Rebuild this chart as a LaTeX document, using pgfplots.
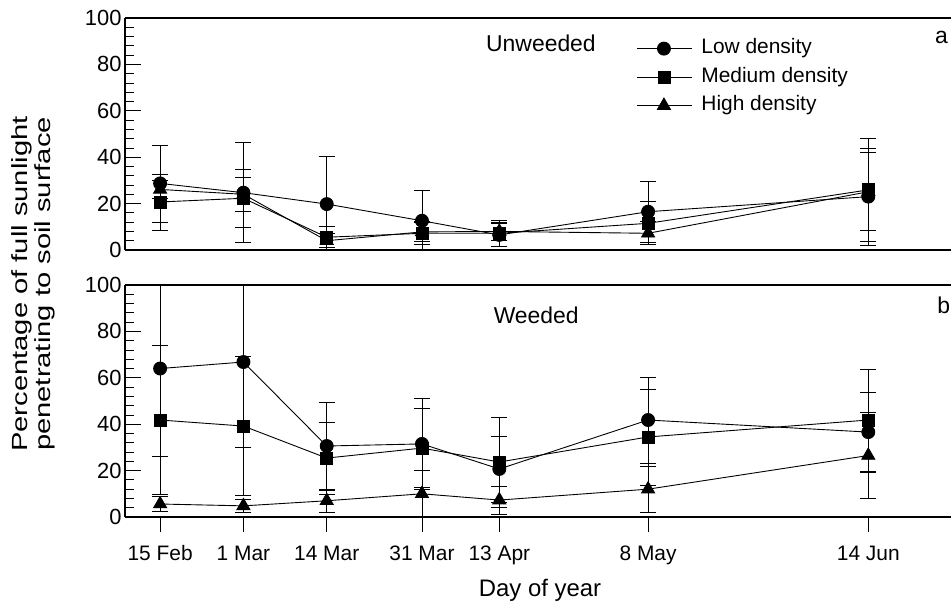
\documentclass[border=0pt]{standalone}
\usepackage{pgfplots}
\pgfplotsset{compat=1.18}
\usepackage{fontspec}
\setmainfont{Liberation Sans}

\pgfplotsset{
  panel/.style={
    scale only axis, width=826bp, height=232bp,
    xmin=40.1, xmax=178.9, ymin=0, ymax=100,
    axis x line=box, axis y line*=left,
    axis line style={line width=1.1pt},
    ytick={0,20,...,100}, minor ytick={4,8,...,96},
    tick align=inside, major tick length=16bp, minor tick length=9bp,
    tick style={line width=0.8pt, black},
    minor tick style={line width=0.8pt, black},
    ytick pos=left,
    font=\fontsize{21}{24}\selectfont,
    ticklabel style={font=\fontsize{21}{24}\selectfont},
    yticklabel style={font=\fontsize{22}{24}\selectfont},
    /pgf/number format/assume math mode=true,
    error bars/y dir=both, error bars/y explicit,
    error bars/error bar style={line width=0.8pt, black},
    error bars/error mark options={rotate=90, mark size=8bp, line width=0.8pt, black},
  },
  ser/.style={black, line width=0.9pt, mark options={solid, fill=black}},
  low/.style={ser, mark=*, mark size=6.5bp},
  med/.style={ser, mark=square*, mark size=6bp},
  high/.style={ser, mark=triangle*, mark size=7.5bp},
}

\begin{document}
\begin{tikzpicture}
% unweeded
\begin{axis}[panel, at={(125bp,351bp)}, anchor=south west,
  xtick=\empty,
  legend style={draw=none, fill=none, inner sep=0pt,
    at={(rel axis cs:0.619,0.912)}, anchor=north west,
    row sep=8.5bp, column sep=9bp,
    font=\fontsize{21}{24}\selectfont,
    nodes={inner sep=0pt, anchor=west, text height=15bp, text depth=5bp}},
  legend cell align=left,
  legend image code/.code={
    \draw[#1, mark repeat=2, mark phase=2] plot coordinates {(0bp,0bp) (27bp,0bp) (55bp,0bp)};}
]
\addplot[low] coordinates {
  (46,28.7) +- (0,16.6)
  (60,24.7) +- (0,21.6)
  (74,19.8) +- (0,20.4)
  (90,12.6) +- (0,13.3)
  (103,6.5) +- (0,5.0)
  (128,16.5) +- (0,13.2)
  (165,23.0) +- (0,21.0)
};
\addlegendentry{Low density}
\addplot[med] coordinates {
  (46,20.7) +- (0,12.1)
  (60,22.3) +- (0,12.6)
  (74,5.5) +- (0,4.5)
  (90,7.2) +- (0,5.0)
  (103,7.2) +- (0,5.7)
  (128,11.5) +- (0,9.3)
  (165,25.9) +- (0,22.2)
};
\addlegendentry{Medium density}
\addplot[high] coordinates {
  (46,26.1) +- (0,4.0)
  (60,24.0) +- (0,7.2)
  (74,4.0) +- (0,3.0)
  (90,7.8) +- (0,4.0)
  (103,8.0) +- (0,4.0)
  (128,7.2) +- (0,5.0)
  (165,25.1) +- (0,16.8)
};
\addlegendentry{High density}
\node[font=\fontsize{23}{26}\selectfont] at (axis cs:110,89.2) {Unweeded};
\node[font=\fontsize{23}{26}\selectfont] at (axis cs:177.3,91.4) {a};
\end{axis}

% weeded
\begin{axis}[panel, at={(125bp,84bp)}, anchor=south west,
  xtick={46,60,74,90,103,128,165},
  xticklabels={15 Feb,1 Mar,14 Mar,31 Mar,13 Apr,8 May,14 Jun},
  xtick pos=bottom,
  xtick style={yshift=-15bp},
  xticklabel style={anchor=base, yshift=-43bp},
]
\addplot[low] coordinates {
  (46,64.0) +- (0,38.0)
  (60,66.8) +- (0,37.0)
  (74,30.6) +- (0,19.0)
  (90,31.5) +- (0,19.7)
  (103,20.7) +- (0,14.2)
  (128,41.8) +- (0,18.5)
  (165,36.6) +- (0,17.3)
};
\addplot[med] coordinates {
  (46,41.8) +- (0,32.0)
  (60,39.2) +- (0,30.0)
  (74,25.4) +- (0,15.5)
  (90,29.7) +- (0,17.0)
  (103,23.7) +- (0,19.4)
  (128,34.5) +- (0,20.7)
  (165,41.8) +- (0,22.0)
};
\addplot[high] coordinates {
  (46,5.6) +- (0,3.3)
  (60,4.8) +- (0,3.0)
  (74,7.0) +- (0,5.0)
  (90,10.0) +- (0,10.0)
  (103,7.3) +- (0,6.1)
  (128,12.0) +- (0,10.0)
  (165,26.5) +- (0,18.6)
};
\node[font=\fontsize{23}{26}\selectfont] at (axis cs:109.2,87) {Weeded};
\node[font=\fontsize{23}{26}\selectfont] at (axis cs:177.7,91.4) {b};
\end{axis}

\node[rotate=90, inner sep=0pt, font=\fontsize{22}{23}\selectfont] at (34bp,317bp)
  {\scalebox{1.33}[1]{\begin{tabular}{@{}c@{}}Percentage of full sunlight\\penetrating to soil surface\end{tabular}}};
\node[anchor=base, font=\fontsize{24}{26}\selectfont] at (540bp,5bp) {Day of year};

\pgfresetboundingbox
\path (0,0) rectangle (951bp,601bp);
\end{tikzpicture}
\end{document}
